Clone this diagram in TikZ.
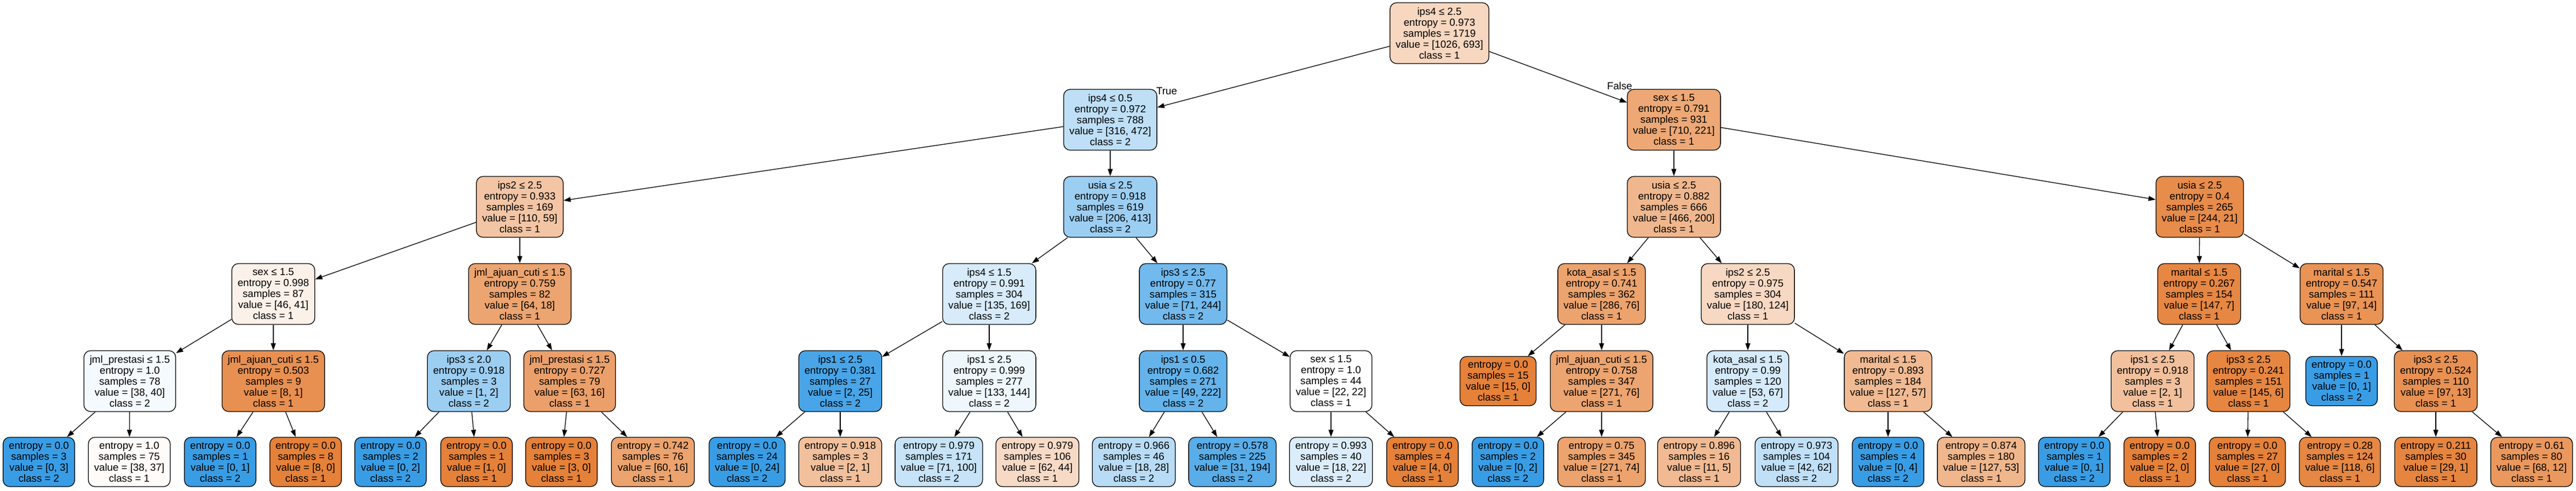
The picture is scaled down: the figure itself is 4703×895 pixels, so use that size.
\documentclass[tikz,border=0pt]{standalone}
\usepackage{fontspec}
\setmainfont{Liberation Sans}
\usepackage{tikz}
\usetikzlibrary{shapes.geometric, arrows.meta}
\usetikzlibrary{positioning}
\definecolor{cone}{HTML}{E58139}
\definecolor{ctwo}{HTML}{399DE5}
\newcommand{\treefont}{\fontsize{18.7}{20}\selectfont}
\tikzstyle{split} = [rectangle, rounded corners=12pt, minimum height=111pt, inner xsep=10.5pt, inner ysep=0pt, align=center, draw=black, line width=1.3pt, font=\treefont]
\tikzstyle{leaf} = [rectangle, rounded corners=12pt, minimum height=90pt, inner xsep=10.5pt, inner ysep=0pt, align=center, draw=black, line width=1.3pt, font=\treefont]
\tikzstyle{edgelabel} = [inner sep=0pt, font=\treefont]
\tikzstyle{arrow} = [line width=1.3pt, -{Triangle[length=13pt, width=9pt]}]

\begin{document}
\begin{tikzpicture}[x=1pt, y=1pt]
		\useasboundingbox (0,0) rectangle (4703,-895);

		\node (ips4_1719) [split, fill=cone!32] at (2628,-60.5) {ips4 ≤ 2.5\\entropy = 0.973\\samples = 1719\\value = [1026, 693]\\class = 1};

		\node (ips4_788) [split, fill=ctwo!33] at (2027,-218.5) {ips4 ≤ 0.5\\entropy = 0.972\\samples = 788\\value = [316, 472]\\class = 2};
		\node (sex_931) [split, fill=cone!69] at (3056,-218.5) {sex ≤ 1.5\\entropy = 0.791\\samples = 931\\value = [710, 221]\\class = 1};

		\node (ips2_169) [split, fill=cone!46] at (949,-377.5) {ips2 ≤ 2.5\\entropy = 0.933\\samples = 169\\value = [110, 59]\\class = 1};
		\node (usia_619) [split, fill=ctwo!50] at (2027,-377.5) {usia ≤ 2.5\\entropy = 0.918\\samples = 619\\value = [206, 413]\\class = 2};
		\node (usia_666) [split, fill=cone!57] at (3056,-377.5) {usia ≤ 2.5\\entropy = 0.882\\samples = 666\\value = [466, 200]\\class = 1};
		\node (usia_265) [split, fill=cone!91] at (4016,-377.5) {usia ≤ 2.5\\entropy = 0.4\\samples = 265\\value = [244, 21]\\class = 1};

		\node (sex_87) [split, fill=cone!11] at (499,-536.5) {sex ≤ 1.5\\entropy = 0.998\\samples = 87\\value = [46, 41]\\class = 1};
		\node (ajuan_82) [split, fill=cone!72] at (949,-536.5) {jml\_ajuan\_cuti ≤ 1.5\\entropy = 0.759\\samples = 82\\value = [64, 18]\\class = 1};
		\node (ips4_304) [split, fill=ctwo!20] at (1806,-536.5) {ips4 ≤ 1.5\\entropy = 0.991\\samples = 304\\value = [135, 169]\\class = 2};
		\node (ips3_315) [split, fill=ctwo!71] at (2160,-536.5) {ips3 ≤ 2.5\\entropy = 0.77\\samples = 315\\value = [71, 244]\\class = 2};
		\node (kota_362) [split, fill=cone!73] at (2924,-536.5) {kota\_asal ≤ 1.5\\entropy = 0.741\\samples = 362\\value = [286, 76]\\class = 1};
		\node (ips2_304) [split, fill=cone!31] at (3191,-536.5) {ips2 ≤ 2.5\\entropy = 0.975\\samples = 304\\value = [180, 124]\\class = 1};
		\node (marital_154) [split, fill=cone!95] at (4015,-536.5) {marital ≤ 1.5\\entropy = 0.267\\samples = 154\\value = [147, 7]\\class = 1};
		\node (marital_111) [split, fill=cone!86] at (4275,-536.5) {marital ≤ 1.5\\entropy = 0.547\\samples = 111\\value = [97, 14]\\class = 1};

		\node (prestasi_78) [split, fill=ctwo!5] at (237,-695.5) {jml\_prestasi ≤ 1.5\\entropy = 1.0\\samples = 78\\value = [38, 40]\\class = 2};
		\node (ajuan_9) [split, fill=cone!88] at (499,-695.5) {jml\_ajuan\_cuti ≤ 1.5\\entropy = 0.503\\samples = 9\\value = [8, 1]\\class = 1};
		\node (ips3_3) [split, fill=ctwo!50] at (856,-695.5) {ips3 ≤ 2.0\\entropy = 0.918\\samples = 3\\value = [1, 2]\\class = 2};
		\node (prestasi_79) [split, fill=cone!75] at (1040,-695.5) {jml\_prestasi ≤ 1.5\\entropy = 0.727\\samples = 79\\value = [63, 16]\\class = 1};
		\node (ips1_27) [split, fill=ctwo!92] at (1534,-695.5) {ips1 ≤ 2.5\\entropy = 0.381\\samples = 27\\value = [2, 25]\\class = 2};
		\node (ips1_277) [split, fill=ctwo!8] at (1806,-695.5) {ips1 ≤ 2.5\\entropy = 0.999\\samples = 277\\value = [133, 144]\\class = 2};
		\node (ips1_271) [split, fill=ctwo!78] at (2160,-695.5) {ips1 ≤ 0.5\\entropy = 0.682\\samples = 271\\value = [49, 222]\\class = 2};
		\node (sex_44) [split, fill=white] at (2430,-695.5) {sex ≤ 1.5\\entropy = 1.0\\samples = 44\\value = [22, 22]\\class = 1};
		\node (leaf_15) [leaf, fill=cone] at (2735,-695.5) {entropy = 0.0\\samples = 15\\value = [15, 0]\\class = 1};
		\node (ajuan_347) [split, fill=cone!72] at (2924,-695.5) {jml\_ajuan\_cuti ≤ 1.5\\entropy = 0.758\\samples = 347\\value = [271, 76]\\class = 1};
		\node (kota_120) [split, fill=ctwo!21] at (3191,-695.5) {kota\_asal ≤ 1.5\\entropy = 0.99\\samples = 120\\value = [53, 67]\\class = 2};
		\node (marital_184) [split, fill=cone!55] at (3447,-695.5) {marital ≤ 1.5\\entropy = 0.893\\samples = 184\\value = [127, 57]\\class = 1};
		\node (ips1_3) [split, fill=cone!50] at (3930,-695.5) {ips1 ≤ 2.5\\entropy = 0.918\\samples = 3\\value = [2, 1]\\class = 1};
		\node (ips3_151) [split, fill=cone!96] at (4105,-695.5) {ips3 ≤ 2.5\\entropy = 0.241\\samples = 151\\value = [145, 6]\\class = 1};
		\node (leaf_1d) [leaf, fill=ctwo] at (4275,-695.5) {entropy = 0.0\\samples = 1\\value = [0, 1]\\class = 2};
		\node (ips3_110) [split, fill=cone!87] at (4447,-695.5) {ips3 ≤ 2.5\\entropy = 0.524\\samples = 110\\value = [97, 13]\\class = 1};

		\node (leaf_3) [leaf, fill=ctwo] at (71,-843) {entropy = 0.0\\samples = 3\\value = [0, 3]\\class = 2};
		\node (leaf_75) [leaf, fill=cone!3] at (236,-843) {entropy = 1.0\\samples = 75\\value = [38, 37]\\class = 1};
		\node (leaf_1a) [leaf, fill=ctwo] at (402,-843) {entropy = 0.0\\samples = 1\\value = [0, 1]\\class = 2};
		\node (leaf_8) [leaf, fill=cone] at (558,-843) {entropy = 0.0\\samples = 8\\value = [8, 0]\\class = 1};
		\node (leaf_2a) [leaf, fill=ctwo] at (713,-843) {entropy = 0.0\\samples = 2\\value = [0, 2]\\class = 2};
		\node (leaf_1b) [leaf, fill=cone] at (870,-843) {entropy = 0.0\\samples = 1\\value = [1, 0]\\class = 1};
		\node (leaf_3b) [leaf, fill=cone] at (1025,-843) {entropy = 0.0\\samples = 3\\value = [3, 0]\\class = 1};
		\node (leaf_76) [leaf, fill=cone!73] at (1192,-843) {entropy = 0.742\\samples = 76\\value = [60, 16]\\class = 1};
		\node (leaf_24) [leaf, fill=ctwo] at (1364,-843) {entropy = 0.0\\samples = 24\\value = [0, 24]\\class = 2};
		\node (leaf_3c) [leaf, fill=cone!50] at (1534,-843) {entropy = 0.918\\samples = 3\\value = [2, 1]\\class = 1};
		\node (leaf_171) [leaf, fill=ctwo!29] at (1714,-843) {entropy = 0.979\\samples = 171\\value = [71, 100]\\class = 2};
		\node (leaf_106) [leaf, fill=cone!29] at (1894,-843) {entropy = 0.979\\samples = 106\\value = [62, 44]\\class = 1};
		\node (leaf_46) [leaf, fill=ctwo!36] at (2070,-843) {entropy = 0.966\\samples = 46\\value = [18, 28]\\class = 2};
		\node (leaf_225) [leaf, fill=ctwo!84] at (2250,-843) {entropy = 0.578\\samples = 225\\value = [31, 194]\\class = 2};
		\node (leaf_40) [leaf, fill=ctwo!18] at (2430,-843) {entropy = 0.993\\samples = 40\\value = [18, 22]\\class = 2};
		\node (leaf_4a) [leaf, fill=cone] at (2597,-843) {entropy = 0.0\\samples = 4\\value = [4, 0]\\class = 1};
		\node (leaf_2b) [leaf, fill=ctwo] at (2753,-843) {entropy = 0.0\\samples = 2\\value = [0, 2]\\class = 2};
		\node (leaf_345) [leaf, fill=cone!73] at (2924,-843) {entropy = 0.75\\samples = 345\\value = [271, 74]\\class = 1};
		\node (leaf_16) [leaf, fill=cone!55] at (3102,-843) {entropy = 0.896\\samples = 16\\value = [11, 5]\\class = 1};
		\node (leaf_104) [leaf, fill=ctwo!32] at (3280,-843) {entropy = 0.973\\samples = 104\\value = [42, 62]\\class = 2};
		\node (leaf_4b) [leaf, fill=ctwo] at (3447,-843) {entropy = 0.0\\samples = 4\\value = [0, 4]\\class = 2};
		\node (leaf_180) [leaf, fill=cone!58] at (3617,-843) {entropy = 0.874\\samples = 180\\value = [127, 53]\\class = 1};
		\node (leaf_1c) [leaf, fill=ctwo] at (3787,-843) {entropy = 0.0\\samples = 1\\value = [0, 1]\\class = 2};
		\node (leaf_2c) [leaf, fill=cone] at (3943,-843) {entropy = 0.0\\samples = 2\\value = [2, 0]\\class = 1};
		\node (leaf_27) [leaf, fill=cone] at (4103,-843) {entropy = 0.0\\samples = 27\\value = [27, 0]\\class = 1};
		\node (leaf_124) [leaf, fill=cone!95] at (4272,-843) {entropy = 0.28\\samples = 124\\value = [118, 6]\\class = 1};
		\node (leaf_30) [leaf, fill=cone!97] at (4447,-843) {entropy = 0.211\\samples = 30\\value = [29, 1]\\class = 1};
		\node (leaf_80) [leaf, fill=cone!82] at (4622,-843) {entropy = 0.61\\samples = 80\\value = [68, 12]\\class = 1};

		\node (lbl_true) [edgelabel] at (2130,-166) {True};
		\node (lbl_false) [edgelabel] at (2957,-157) {False};

		\draw [arrow] (ips4_1719) -- (ips4_788);
		\draw [arrow] (ips4_1719) -- (sex_931);
		\draw [arrow] (ips4_788) -- (ips2_169);
		\draw [arrow] (ips4_788) -- (usia_619);
		\draw [arrow] (sex_931) -- (usia_666);
		\draw [arrow] (sex_931) -- (usia_265);
		\draw [arrow] (ips2_169) -- (sex_87);
		\draw [arrow] (ips2_169) -- (ajuan_82);
		\draw [arrow] (usia_619) -- (ips4_304);
		\draw [arrow] (usia_619) -- (ips3_315);
		\draw [arrow] (usia_666) -- (kota_362);
		\draw [arrow] (usia_666) -- (ips2_304);
		\draw [arrow] (usia_265) -- (marital_154);
		\draw [arrow] (usia_265) -- (marital_111);
		\draw [arrow] (sex_87) -- (prestasi_78);
		\draw [arrow] (sex_87) -- (ajuan_9);
		\draw [arrow] (ajuan_82) -- (ips3_3);
		\draw [arrow] (ajuan_82) -- (prestasi_79);
		\draw [arrow] (ips4_304) -- (ips1_27);
		\draw [arrow] (ips4_304) -- (ips1_277);
		\draw [arrow] (ips3_315) -- (ips1_271);
		\draw [arrow] (ips3_315) -- (sex_44);
		\draw [arrow] (kota_362) -- (leaf_15);
		\draw [arrow] (kota_362) -- (ajuan_347);
		\draw [arrow] (ips2_304) -- (kota_120);
		\draw [arrow] (ips2_304) -- (marital_184);
		\draw [arrow] (marital_154) -- (ips1_3);
		\draw [arrow] (marital_154) -- (ips3_151);
		\draw [arrow] (marital_111) -- (leaf_1d);
		\draw [arrow] (marital_111) -- (ips3_110);
		\draw [arrow] (prestasi_78) -- (leaf_3);
		\draw [arrow] (prestasi_78) -- (leaf_75);
		\draw [arrow] (ajuan_9) -- (leaf_1a);
		\draw [arrow] (ajuan_9) -- (leaf_8);
		\draw [arrow] (ips3_3) -- (leaf_2a);
		\draw [arrow] (ips3_3) -- (leaf_1b);
		\draw [arrow] (prestasi_79) -- (leaf_3b);
		\draw [arrow] (prestasi_79) -- (leaf_76);
		\draw [arrow] (ips1_27) -- (leaf_24);
		\draw [arrow] (ips1_27) -- (leaf_3c);
		\draw [arrow] (ips1_277) -- (leaf_171);
		\draw [arrow] (ips1_277) -- (leaf_106);
		\draw [arrow] (ips1_271) -- (leaf_46);
		\draw [arrow] (ips1_271) -- (leaf_225);
		\draw [arrow] (sex_44) -- (leaf_40);
		\draw [arrow] (sex_44) -- (leaf_4a);
		\draw [arrow] (ajuan_347) -- (leaf_2b);
		\draw [arrow] (ajuan_347) -- (leaf_345);
		\draw [arrow] (kota_120) -- (leaf_16);
		\draw [arrow] (kota_120) -- (leaf_104);
		\draw [arrow] (marital_184) -- (leaf_4b);
		\draw [arrow] (marital_184) -- (leaf_180);
		\draw [arrow] (ips1_3) -- (leaf_1c);
		\draw [arrow] (ips1_3) -- (leaf_2c);
		\draw [arrow] (ips3_151) -- (leaf_27);
		\draw [arrow] (ips3_151) -- (leaf_124);
		\draw [arrow] (ips3_110) -- (leaf_30);
		\draw [arrow] (ips3_110) -- (leaf_80);
	\end{tikzpicture}
\end{document}
